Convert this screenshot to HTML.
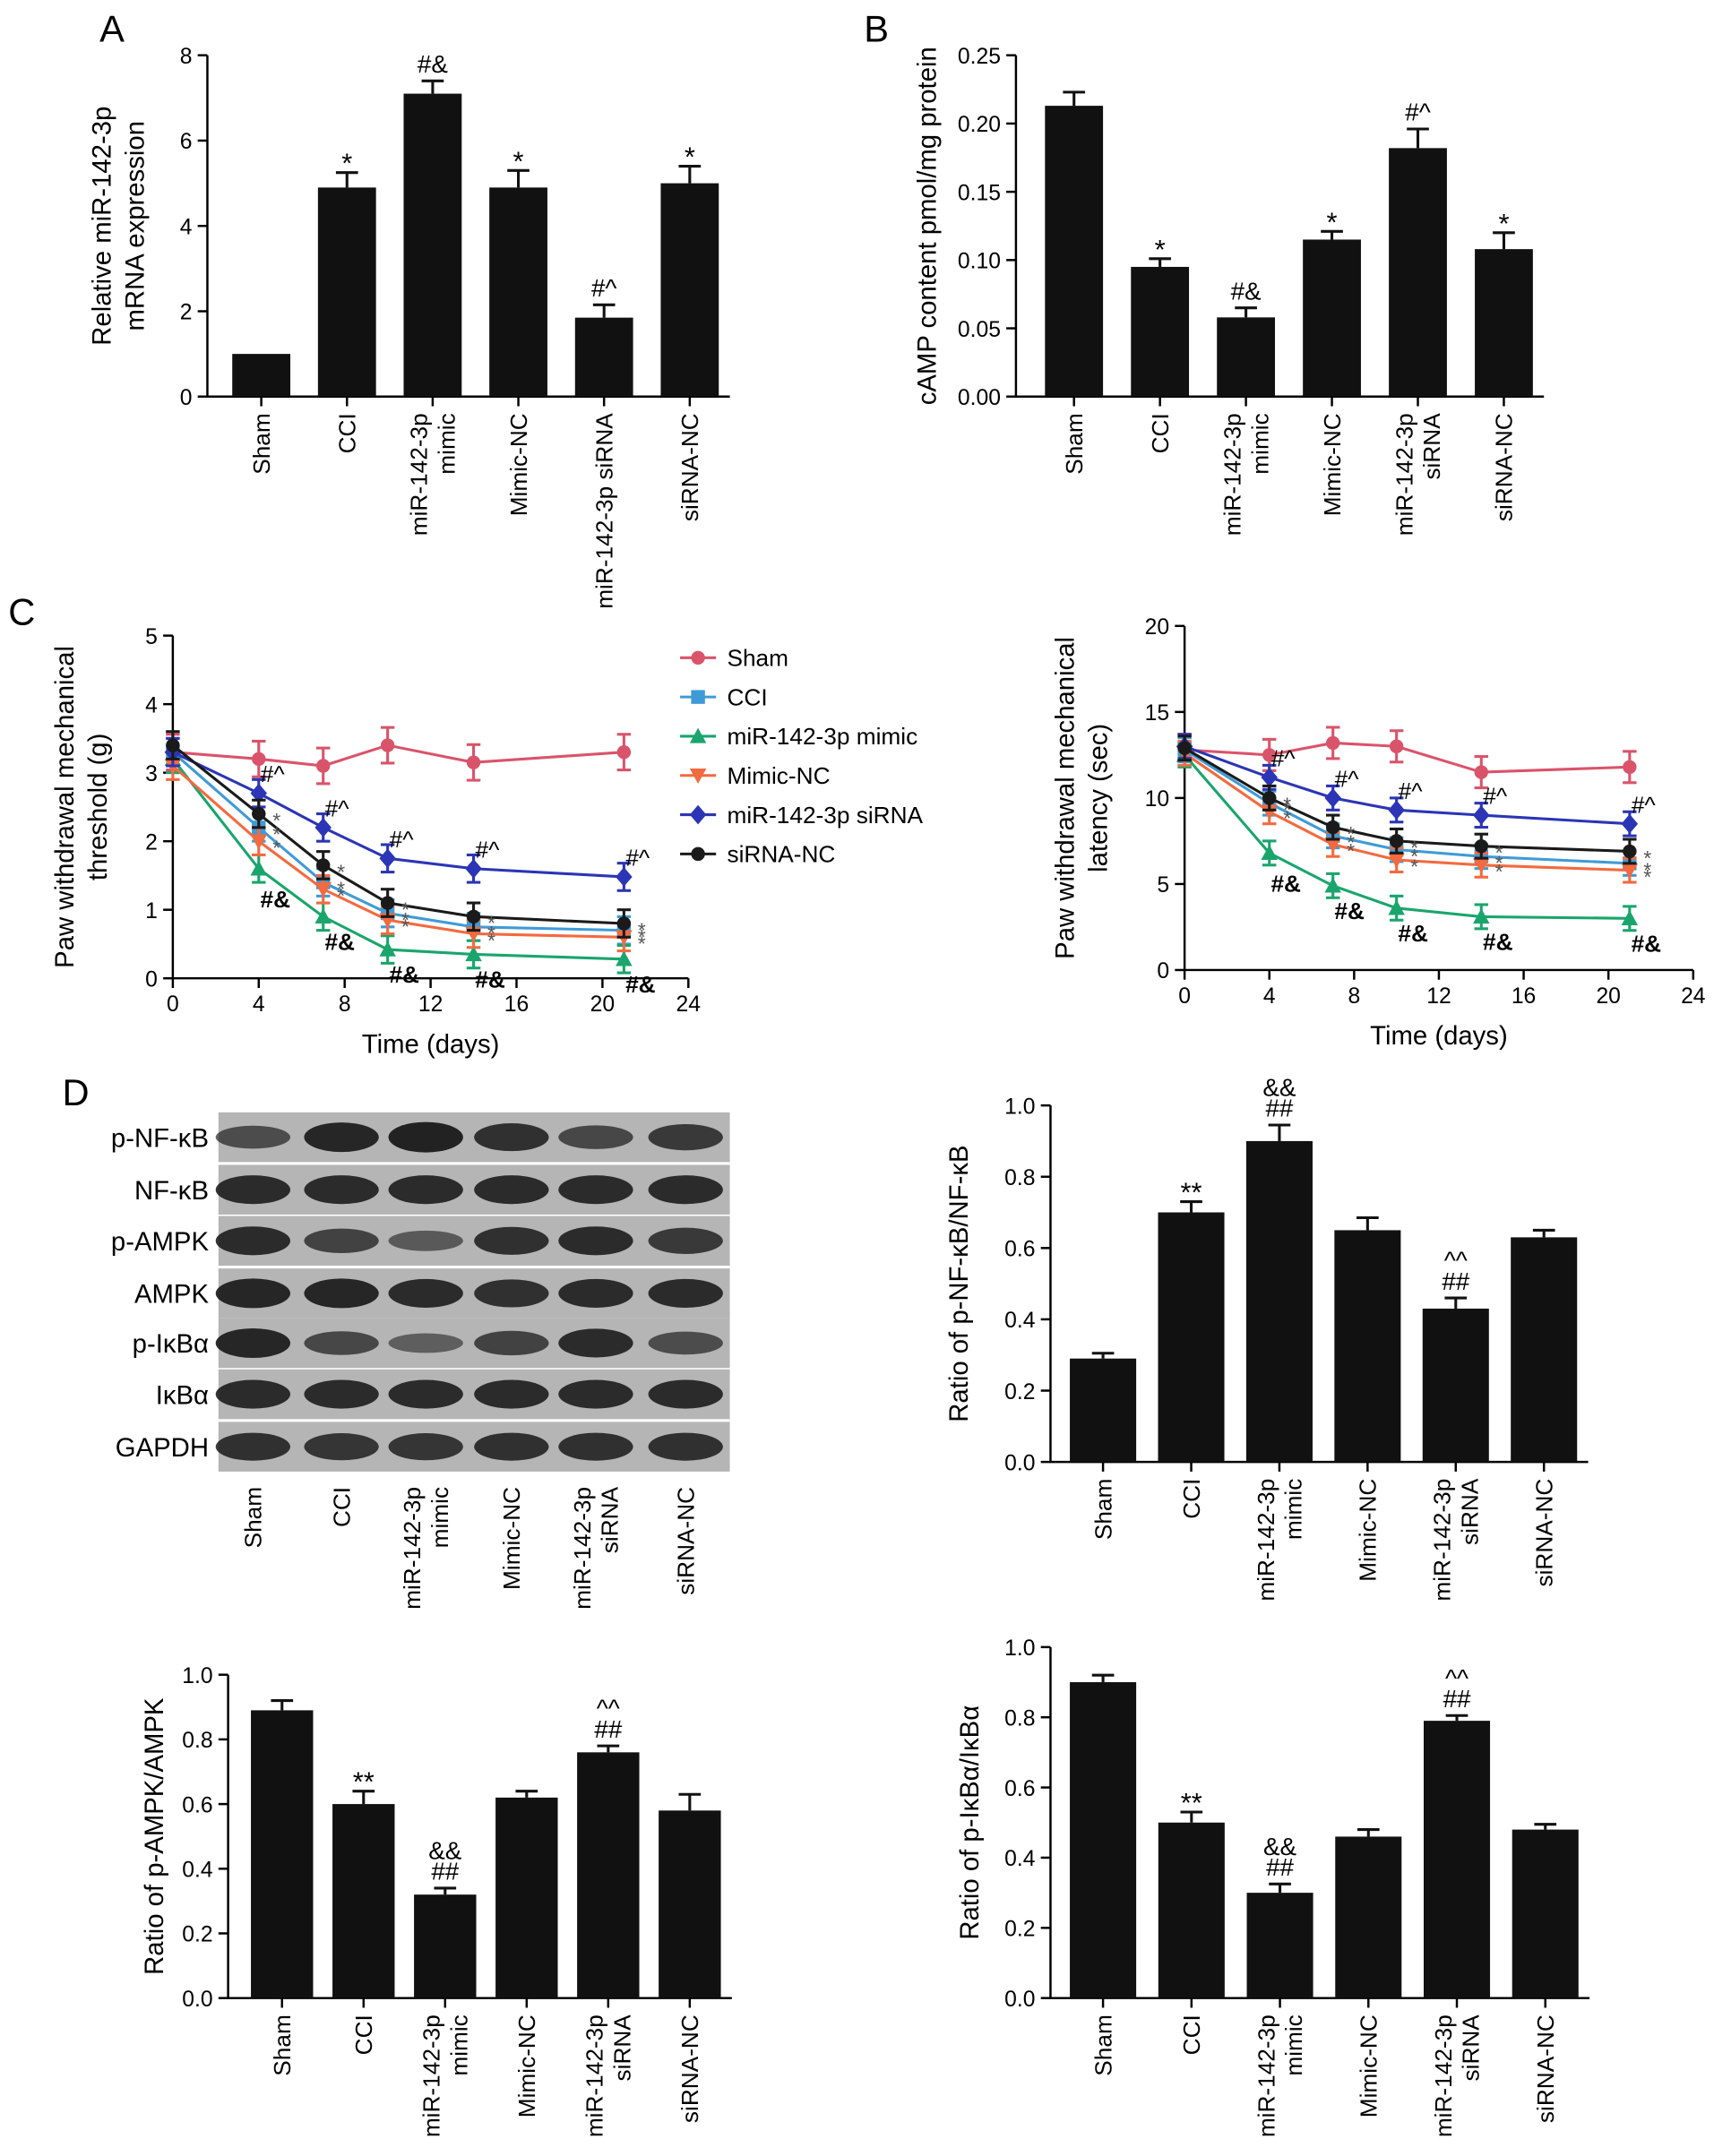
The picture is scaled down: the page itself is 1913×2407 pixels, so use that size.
<!DOCTYPE html>
<html><head><meta charset="utf-8"><style>
html,body{margin:0;padding:0;background:#fff}
svg{display:block;font-family:"Liberation Sans",Arial,sans-serif}
</style></head><body>
<svg id="fig" width="1913" height="2407" viewBox="0 0 1240 1560.3" xmlns="http://www.w3.org/2000/svg"></svg>
<script>
// ---------- DATA ----------
const catsA = ["Sham","CCI","miR-142-3p\nmimic","Mimic-NC","miR-142-3p siRNA","siRNA-NC"];
const cats2 = ["Sham","CCI","miR-142-3p\nmimic","Mimic-NC","miR-142-3p\nsiRNA","siRNA-NC"];
const valsA = [1.0,4.9,7.1,4.9,1.85,5.0];
const errsA = [0,0.35,0.3,0.4,0.3,0.4];
const annA = ["","*","#&","*","#^","*"];
const valsB = [0.213,0.095,0.058,0.115,0.182,0.108];
const errsB = [0.01,0.006,0.007,0.006,0.014,0.012];
const annB = ["","*","#&","*","#^","*"];
const valsNF = [0.29,0.70,0.90,0.65,0.43,0.63];
const errsNF = [0.015,0.03,0.045,0.035,0.03,0.02];
const annNF = ["","**","&&\n##","","^^\n##",""];
const valsAMPK = [0.89,0.60,0.32,0.62,0.76,0.58];
const errsAMPK = [0.03,0.04,0.02,0.02,0.02,0.05];
const annAMPK = ["","**","&&\n##","","^^\n##",""];
const valsIKB = [0.90,0.50,0.30,0.46,0.79,0.48];
const errsIKB = [0.02,0.03,0.025,0.02,0.015,0.015];
const annIKB = ["","**","&&\n##","","^^\n##",""];
const ticksA = [0,2,4,6,8];
const ticksB = [0,0.05,0.10,0.15,0.20,0.25];
const ticksR = [0,0.2,0.4,0.6,0.8,1.0];
const days = [0,4,7,10,14,21];
const xTicks = [0,4,8,12,16,20,24];
const seriesNames = ["Sham","CCI","miR-142-3p mimic","Mimic-NC","miR-142-3p siRNA","siRNA-NC"];
const seriesColors = ["#d9546a","#3f9bd6","#1aa56c","#f26a3f","#2b35b5","#1a1a1a"];
const seriesMarks = ["circle","square","triUp","triDown","diamond","circle"];
const thrSham = [3.3,3.2,3.1,3.4,3.15,3.3];
const thrCCI = [3.3,2.2,1.4,0.95,0.75,0.7];
const thrMimic = [3.2,1.6,0.9,0.42,0.35,0.28];
const thrMimicNC = [3.1,2.0,1.3,0.85,0.65,0.6];
const thrSi = [3.3,2.7,2.2,1.75,1.6,1.48];
const thrSiNC = [3.4,2.4,1.65,1.1,0.9,0.8];
const latSham = [12.8,12.5,13.2,13.0,11.5,11.8];
const latCCI = [12.8,9.7,7.8,7.0,6.6,6.2];
const latMimic = [12.5,6.8,4.9,3.6,3.1,3.0];
const latMimicNC = [12.6,9.2,7.3,6.4,6.1,5.8];
const latSi = [13.0,11.2,10.0,9.3,9.0,8.5];
const latSiNC = [12.9,10.0,8.3,7.5,7.2,6.9];
const blotRows = ["p-NF-κB","NF-κB","p-AMPK","AMPK","p-IκBα","IκBα","GAPDH"];
const blotIntensity = [
 [0.55,0.95,1.0,0.85,0.6,0.75],
 [0.9,0.9,0.9,0.9,0.9,0.9],
 [0.9,0.65,0.4,0.85,0.9,0.75],
 [0.95,0.95,0.9,0.85,0.9,0.9],
 [0.95,0.6,0.35,0.65,0.9,0.55],
 [0.9,0.9,0.9,0.9,0.9,0.9],
 [0.85,0.8,0.8,0.85,0.85,0.85]
];
// ---------- HELPERS ----------
const svg = document.getElementById('fig');
const NS = "http://www.w3.org/2000/svg";
function mk(tag, attrs, parent){const e=document.createElementNS(NS,tag);for(const k in attrs)e.setAttribute(k,attrs[k]);(parent||svg).appendChild(e);return e;}
function txt(s, attrs, parent){const e=mk('text',attrs,parent);e.textContent=s;return e;}
function fmt(v,d){return v.toFixed(d);}

function barChart(o){
  const g=mk('g',{});
  
  
  const y=v=>o.y0-(v-o.ymin)/(o.ymax-o.ymin)*(o.y0-o.y1);
  const x=i=>o.xc0+i*o.step;
  const right=x(o.vals.length-1)+o.bw/2+8;
  const ax=mk('path',{d:`M${o.ax},${o.y1} V${o.y0} H${right}`,stroke:'#000','stroke-width':1.6,fill:'none'},g);
  
  
  o.ticks.forEach(t=>{
    mk('line',{x1:o.ax-7,x2:o.ax,y1:y(t),y2:y(t),stroke:'#000','stroke-width':1.6},g);
    const tl=txt(fmt(t,o.dec),{x:o.ax-11,y:y(t)+6,'font-size':16,'text-anchor':'end'},g);
    
    
  });
  o.vals.forEach((v,i)=>{
    const cx=x(i);
    mk('line',{x1:cx,x2:cx,y1:o.y0,y2:o.y0+7,stroke:'#000','stroke-width':1.6},g);
    const b=mk('rect',{x:cx-o.bw/2,y:y(v),width:o.bw,height:o.y0-y(v),fill:'#111'},g);
    
    
    const e=o.errs[i];
    if(e>0){mk('line',{x1:cx,x2:cx,y1:y(v),y2:y(v+e),stroke:'#111','stroke-width':2},g);
      mk('line',{x1:cx-8,x2:cx+8,y1:y(v+e),y2:y(v+e),stroke:'#111','stroke-width':2},g);}
    const ann=o.ann[i];
    if(ann){const lines=ann.split('\n');
      lines.forEach((l,k)=>{const a=txt(l,{x:cx,y:y(v+e)-6-(lines.length-1-k)*15+(l.startsWith('*')?6:0),'font-size':l.startsWith('*')?20:18,'text-anchor':'middle'},g);
        
        });}
    const lines=o.cats[i].split('\n');
    lines.forEach((l,k)=>{const lx=cx+6+(k-(lines.length-1)/2)*20;
      const c=txt(l,{x:lx,y:o.y0+12,'font-size':17,'text-anchor':'end',transform:`rotate(-90 ${lx} ${o.y0+12})`},g);
      
      });
  });
  const tl=o.title.split('\n');
  tl.forEach((l,k)=>{const tx=o.tx+(k-(tl.length-1)/2)*24;
    const t=txt(l,{x:tx,y:(o.y0+o.y1)/2,'font-size':19,'text-anchor':'middle',transform:`rotate(-90 ${tx} ${(o.y0+o.y1)/2})`},g);
    
    });
}

function marker(g,type,cx,cy,c){
  const r=5;
  if(type==='circle')return mk('circle',{cx,cy,r,fill:c},g);
  if(type==='square')return mk('rect',{x:cx-r,y:cy-r,width:2*r,height:2*r,fill:c},g);
  if(type==='triUp')return mk('polygon',{points:`${cx},${cy-6} ${cx-6},${cy+5} ${cx+6},${cy+5}`,fill:c},g);
  if(type==='triDown')return mk('polygon',{points:`${cx},${cy+6} ${cx-6},${cy-5} ${cx+6},${cy-5}`,fill:c},g);
  return mk('polygon',{points:`${cx},${cy-7} ${cx+6},${cy} ${cx},${cy+7} ${cx-6},${cy}`,fill:c},g);
}

function lineChart(o){
  const g=mk('g',{});
  
  
  const X=v=>o.x0+v/24*(o.x1-o.x0);
  const Y=v=>o.y0-v/o.ymax*(o.y0-o.y1);
  mk('path',{d:`M${o.x0},${o.y1} V${o.y0} H${o.x1}`,stroke:'#000','stroke-width':1.6,fill:'none'},g);
  o.yt.forEach(t=>{mk('line',{x1:o.x0-7,x2:o.x0,y1:Y(t),y2:Y(t),stroke:'#000','stroke-width':1.6},g);
    const l=txt(String(t),{x:o.x0-11,y:Y(t)+6,'font-size':16,'text-anchor':'end'},g);
    
    });
  xTicks.forEach(t=>{mk('line',{x1:X(t),x2:X(t),y1:o.y0,y2:o.y0+7,stroke:'#000','stroke-width':1.6},g);
    const l=txt(String(t),{x:X(t),y:o.y0+24,'font-size':16,'text-anchor':'middle'},g);
    
    });
  const xt=txt('Time (days)',{x:(o.x0+o.x1)/2,y:o.y0+54,'font-size':19,'text-anchor':'middle'},g);
  
  
  const tl=o.title.split('\n');
  tl.forEach((l,k)=>{const tx=o.tx+k*24;const ty=(o.y0+o.y1)/2;
    const t=txt(l,{x:tx,y:ty,'font-size':19,'text-anchor':'middle',transform:`rotate(-90 ${tx} ${ty})`},g);
    
    });
  o.series.forEach((s,si)=>{
    const c=seriesColors[si];
    const sg=mk('g',{},g);
    
    
    mk('polyline',{points:s.map((v,i)=>X(days[i])+','+Y(v)).join(' '),fill:'none',stroke:c,'stroke-width':2},sg);
    s.forEach((v,i)=>{const e=o.err*(si===0?1.3:1);
      mk('line',{x1:X(days[i]),x2:X(days[i]),y1:Y(v-e),y2:Y(v+e),stroke:c,'stroke-width':2},sg);
      mk('line',{x1:X(days[i])-5,x2:X(days[i])+5,y1:Y(v+e),y2:Y(v+e),stroke:c,'stroke-width':2},sg);
      mk('line',{x1:X(days[i])-5,x2:X(days[i])+5,y1:Y(v-e),y2:Y(v-e),stroke:c,'stroke-width':2},sg);
      const m=marker(sg,seriesMarks[si],X(days[i]),Y(v),c);
      
      });
  });
  // annotations
  const si=o.series[4], mi=o.series[2];
  for(let i=1;i<days.length;i++){
    const a=txt('#^',{x:X(days[i])+10,y:Y(si[i])-8,'font-size':17,'text-anchor':'middle'},g);
    
    
    const b=txt('#&',{x:X(days[i])+12,y:Y(mi[i])+(i===1?28:24),'font-size':17,'font-weight':'bold','text-anchor':'middle'},g);
    
    
    [1,3,5].forEach(k=>{const s=txt('*',{x:X(days[i])+10,y:Y(o.series[k][i])+10,'font-size':15,fill:'#555'},g);
      
      });
  }
}

// ---------- PANEL LETTERS ----------
[['A',72,30],['B',625,30],['C',6,452],['D',45,800]].forEach(p=>{
  const t=txt(p[0],{x:p[1],y:p[2],'font-size':27},svg);
  
  
});

barChart({name:'chart-a-mir-expression',ax:150,y0:287,y1:40,ymin:0,ymax:8,xc0:189,step:62,bw:42,vals:valsA,errs:errsA,ann:annA,cats:catsA,ticks:ticksA,dec:0,title:'Relative miR-142-3p\nmRNA expression',tx:92});
barChart({name:'chart-b-camp',ax:735,y0:287,y1:40,ymin:0,ymax:0.25,xc0:777,step:62.2,bw:42,vals:valsB,errs:errsB,ann:annB,cats:cats2,ticks:ticksB,dec:2,title:'cAMP content pmol/mg protein',tx:677});

lineChart({name:'chart-c-threshold',x0:125,x1:498,y0:708,y1:460,ymax:5,yt:[0,1,2,3,4,5],err:0.2,title:'Paw withdrawal mechanical\nthreshold (g)',tx:53,
  series:[thrSham,thrCCI,thrMimic,thrMimicNC,thrSi,thrSiNC]});
lineChart({name:'chart-c-latency',x0:857,x1:1225,y0:702,y1:453,ymax:20,yt:[0,5,10,15,20],err:0.7,title:'Paw withdrawal mechanical\nlatency (sec)',tx:777,
  series:[latSham,latCCI,latMimic,latMimicNC,latSi,latSiNC]});

// legend
const lg=mk('g',{});


seriesNames.forEach((n,i)=>{
  const y=476+i*28.4;
  const eg=mk('g',{},lg);
  
  
  mk('line',{x1:492,x2:518,y1:y,y2:y,stroke:seriesColors[i],'stroke-width':2},eg);
  marker(eg,seriesMarks[i],505,y,seriesColors[i]);
  txt(n,{x:526,y:y+6,'font-size':17},eg);
});

// blot
const bg=mk('g',{});


const lanes=[183,247,308,370,431,496];
const rowTop=[805,843,880,918,954,991,1029];
blotRows.forEach((r,ri)=>{
  const t=rowTop[ri];
  mk('rect',{x:158,y:t,width:370,height:36,fill:'#b5b5b5'},bg);
  blotIntensity[ri].forEach((v,li)=>{
    const e=mk('ellipse',{cx:lanes[li],cy:t+18,rx:27,ry:5+v*6,fill:'#1a1a1a','fill-opacity':0.35+v*0.6},bg);
    
    
  });
  const l=txt(r,{x:151,y:t+25,'font-size':19,'text-anchor':'end'},bg);
  
  
});
cats2.forEach((c,i)=>{
  const lines=c.split('\n');
  lines.forEach((l,k)=>{const lx=lanes[i]+6+(k-(lines.length-1)/2)*20;
    const t=txt(l,{x:lx,y:1076,'font-size':17,'text-anchor':'end',transform:`rotate(-90 ${lx} 1076)`},bg);
    
    });
});

barChart({name:'chart-d-nfkb-ratio',ax:760,y0:1058,y1:800,ymin:0,ymax:1,xc0:798,step:63.8,bw:48,vals:valsNF,errs:errsNF,ann:annNF,cats:cats2,ticks:ticksR,dec:1,title:'Ratio of p-NF-κB/NF-κB',tx:700});
barChart({name:'chart-d-ampk-ratio',ax:165,y0:1446,y1:1212,ymin:0,ymax:1,xc0:204,step:59,bw:45,vals:valsAMPK,errs:errsAMPK,ann:annAMPK,cats:cats2,ticks:ticksR,dec:1,title:'Ratio of p-AMPK/AMPK',tx:118});
barChart({name:'chart-d-ikba-ratio',ax:760,y0:1446,y1:1192,ymin:0,ymax:1,xc0:798,step:64,bw:48,vals:valsIKB,errs:errsIKB,ann:annIKB,cats:cats2,ticks:ticksR,dec:1,title:'Ratio of p-IκBα/IκBα',tx:708});
</script>
</body></html>
